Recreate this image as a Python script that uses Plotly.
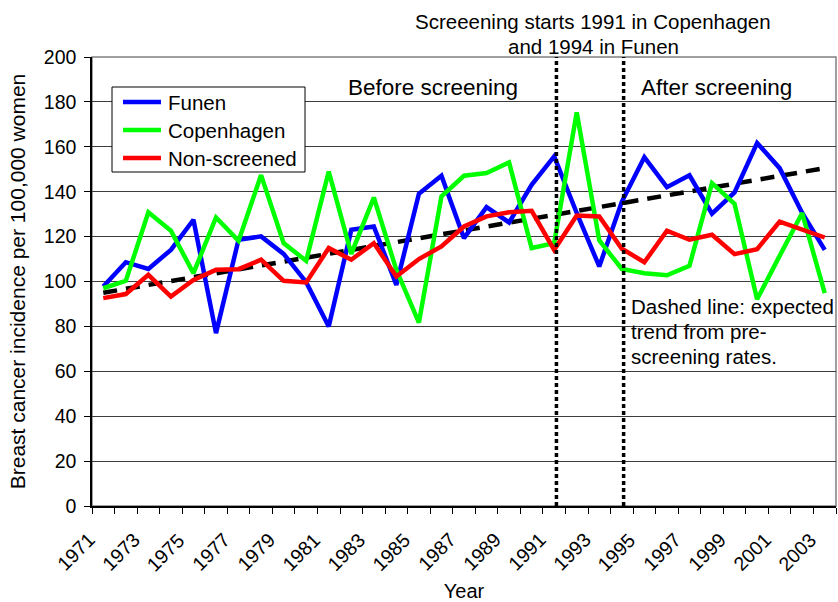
import plotly.graph_objects as go

years = list(range(1971, 2004))
funen = [97.8, 108.6, 105.6, 114.1, 127.5, 77.0, 118.6, 120.1, 112.3, 99.7, 80.0,
         123.0, 124.5, 98.5, 139.1, 147.1, 119.3, 133.1, 126.3, 143.1, 155.7,
         130.5, 106.7, 135.5, 155.4, 142.0, 147.3, 130.2, 139.7, 161.7, 150.5, 130.5, 114.1]
copenhagen = [97.0, 100.3, 130.8, 122.6, 103.7, 128.5, 118.1, 147.4, 117.1, 109.2, 149.0,
              112.3, 137.4, 105.2, 81.7, 137.9, 147.1, 148.3, 153.0, 114.9, 117.1,
              175.3, 118.3, 105.6, 103.7, 102.8, 107.0, 143.8, 134.6, 92.1, 111.4, 130.5, 94.8]
non_screened = [92.6, 94.4, 103.0, 93.3, 100.7, 105.2, 105.5, 109.7, 100.3, 99.6, 114.9,
                109.7, 117.1, 102.2, 110.0, 115.6, 124.5, 129.0, 130.8, 131.5, 114.1,
                129.4, 129.0, 114.6, 108.6, 122.6, 118.6, 120.8, 112.2, 114.4, 126.7, 123.3, 119.6]
trend_years = [1971, 2003]
trend_values = [95.0, 150.5]
screening_years = [1991.1, 1994.08]
tick_years = list(range(1971, 2004, 2))
tick_labels = [str(y) for y in tick_years]

series_names = ["Funen", "Copenhagen", "Non-screened"]
series_colors = ["#0000ff", "#00ff00", "#ff0000"]
series_values = [funen, copenhagen, non_screened]

FONT = "Liberation Sans, Arial, sans-serif"

def px_x(p):
    return (p - 92) / 744.0

def px_y(p):
    return (506 - p) / 449.0

fig = go.Figure()
fig.add_trace(go.Scatter(x=trend_years, y=trend_values, mode="lines", showlegend=False,
                         line=dict(color="black", width=4.5, dash="14px,9px")))
for name, col, vals in zip(series_names, series_colors, series_values):
    fig.add_trace(go.Scatter(x=years, y=vals, mode="lines", name=name, showlegend=False,
                             line=dict(color=col, width=4.5)))

shapes = [dict(type="rect", xref="paper", yref="paper", x0=0, x1=1, y0=0, y1=1,
               line=dict(color="#808080", width=1.5), layer="below")]
for sx in screening_years:
    shapes.append(dict(type="line", xref="x", yref="y", x0=sx, x1=sx, y0=0, y1=200,
                       line=dict(color="black", width=3.5, dash="4px,3px")))

annotations = []
def note(text, x, y, size, xanchor="center"):
    annotations.append(dict(text=text, x=px_x(x), y=px_y(y), xref="paper", yref="paper",
                            showarrow=False, xanchor=xanchor, yanchor="middle",
                            font=dict(size=size)))

note("Screeening starts 1991 in Copenhagen", 593, 21, 20.5)
note("and 1994 in Funen", 593, 46, 20.5)
note("Before screening", 433, 87, 22.5)
note("After screening", 716, 87, 22.5)
note("Dashed line: expected", 629, 306, 20.5, "left")
note("trend from pre-", 629, 331, 20.5, "left")
note("screening rates.", 629, 356, 20.5, "left")

# rotated year labels, placed on the x axis scale
for yv, lab in zip(tick_years, tick_labels):
    annotations.append(dict(text=lab, x=yv, xref="x", y=px_y(551.5), yref="paper",
                            xshift=-28, showarrow=False, textangle=-45,
                            xanchor="center", yanchor="middle", font=dict(size=19.5)))

# legend box
shapes.append(dict(type="rect", xref="paper", yref="paper",
                   x0=px_x(112), x1=px_x(305), y0=px_y(172), y1=px_y(87),
                   line=dict(color="black", width=1), fillcolor="white", layer="above"))
for i, (name, col) in enumerate(zip(series_names, series_colors)):
    yy = 102 + 28 * i
    shapes.append(dict(type="line", xref="paper", yref="paper",
                       x0=px_x(123), x1=px_x(161), y0=px_y(yy), y1=px_y(yy),
                       line=dict(color=col, width=4.5), layer="above"))
    note(name, 166, yy, 20.5, "left")

fig.update_layout(
    width=838, height=602,
    margin=dict(l=92, r=2, t=57, b=96, autoexpand=False),
    paper_bgcolor="white", plot_bgcolor="white",
    font=dict(family=FONT, size=19, color="black"),
    shapes=shapes, annotations=annotations, showlegend=False,
    xaxis=dict(range=[1970.5, 2003.5], tickmode="array", tickvals=tick_years,
               showticklabels=False, ticks="",
               showline=True, linecolor="black", linewidth=1.5, showgrid=False,
               zeroline=False, automargin=False,
               minor=dict(tick0=1970.5, dtick=1, ticks="outside", ticklen=6,
                          tickcolor="black", tickwidth=1, showgrid=False),
               title=dict(text="Year", font=dict(size=20), standoff=81)),
    yaxis=dict(range=[0, 200], dtick=20, ticks="outside", ticklen=6, tickcolor="black",
               tickfont=dict(size=19.5), ticklabelstandoff=4,
               showline=True, linecolor="black", linewidth=1.5,
               showgrid=True, gridcolor="#3c3c3c", gridwidth=1, zeroline=False,
               automargin=False,
               title=dict(text="Breast cancer incidence per 100,000 women",
                          font=dict(size=21), standoff=12)),
)

fig.write_html("out.html", config={"displayModeBar": False},
               post_script="document.body.style.margin='0px';")
